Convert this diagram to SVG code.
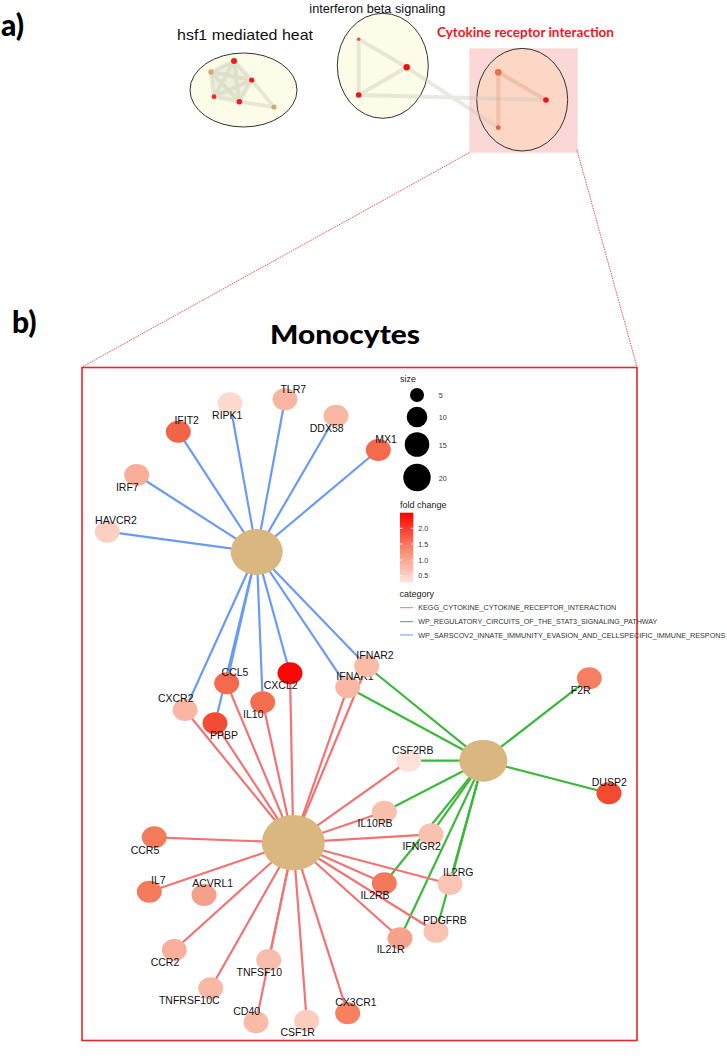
<svg xmlns="http://www.w3.org/2000/svg" width="727" height="1058" viewBox="0 0 727 1058">
<defs>
<linearGradient id="fc" x1="0" y1="0" x2="0" y2="1">
<stop offset="0" stop-color="#ff0000"/>
<stop offset="0.5" stop-color="#f7836a"/>
<stop offset="1" stop-color="#fde6df"/>
</linearGradient>
</defs>
<style>
.panel{font-family:Lato,"Liberation Sans",sans-serif;font-weight:900;fill:#000}
.ttl{font-family:"Liberation Sans",Arial,sans-serif;fill:#111}
.lbl{font-family:"Liberation Sans",Arial,sans-serif;font-size:10.5px;fill:#111;text-anchor:middle}
.leg{font-family:"Liberation Sans",Arial,sans-serif;fill:#222}
.sm{font-family:"Liberation Sans",Arial,sans-serif;font-size:7.2px;fill:#333}
.blue{stroke:#6a9bf4;stroke-width:2.2;fill:none}
.red{stroke:#f27373;stroke-width:2.2;fill:none}
.green{stroke:#3cb83c;stroke-width:2.2;fill:none}
.hub{fill:#dab780}
.mesh{stroke:#c8c8b8;stroke-opacity:0.4;stroke-width:4;fill:none;stroke-linecap:round}
.dot{stroke:#f05050;stroke-width:1;stroke-dasharray:1.5 1;fill:none}
</style>

<!-- Panel a -->
<g id="panel-a">
<text class="panel" x="1" y="36" font-size="30">a)</text>
<rect x="469.3" y="48.3" width="108.4" height="104.4" fill="#fbd7d7"/>
<g id="cluster-hsf1">
<text class="ttl" x="177" y="39.5" font-size="15" textLength="136" lengthAdjust="spacingAndGlyphs">hsf1 mediated heat</text>
<ellipse cx="243.5" cy="90" rx="53.5" ry="37" fill="#fcfce8" stroke="#333" stroke-width="1"/>
<path d="M234,61 L211,72 L214,96.7 L239.3,101.7 L251.7,80 Z" fill="#d8d8c8" fill-opacity="0.35" stroke="none"/>
<path class="mesh" d="M234,61 L211,72 L214,96.7 L239.3,101.7 L251.7,80 Z M234,61 L214,96.7 M234,61 L239.3,101.7 M211,72 L251.7,80 M211,72 L239.3,101.7 M214,96.7 L251.7,80 M251.7,80 L274,107 M239.3,101.7 L274,107"/>
<circle cx="234" cy="61" r="3" fill="#f41a1a"/>
<circle cx="211" cy="72" r="2.7" fill="#d8a870"/>
<circle cx="251.7" cy="80" r="2.6" fill="#f41a1a"/>
<circle cx="214" cy="96.7" r="2.4" fill="#f42a2a"/>
<circle cx="239.3" cy="101.7" r="2.8" fill="#f41a1a"/>
<circle cx="274" cy="107" r="2.6" fill="#d8a870"/>
</g>
<g id="cluster-ifnb">
<text class="ttl" x="309.3" y="12.5" font-size="12.5" textLength="136" lengthAdjust="spacingAndGlyphs">interferon beta signaling</text>
<ellipse cx="382.8" cy="65.8" rx="45.5" ry="52.5" fill="#fcfce8" stroke="#333" stroke-width="1"/>
</g>
<g id="cluster-cytokine">
<text class="panel" x="437" y="36.7" font-size="14" style="fill:#f01818;font-weight:bold" textLength="177" lengthAdjust="spacingAndGlyphs">Cytokine receptor interaction</text>
<ellipse cx="522.2" cy="99.7" rx="45.5" ry="51.3" fill="#fcd7c6" stroke="#333" stroke-width="1"/>
</g>
<path class="mesh" d="M358.7,39.3 L358.7,95 M358.7,39.3 L406.7,67.3 M358.7,95 L406.7,67.3 M406.7,67.3 L498.3,127.7 M358.7,95 L546,100"/>
<path d="M498.3,72.3 L546,100 M498.3,72.3 L498.3,127.7" stroke="#e0a080" stroke-opacity="0.4" stroke-width="4" fill="none"/>
<circle cx="358.7" cy="39.3" r="1.8" fill="#f05050"/>
<circle cx="406.7" cy="67.3" r="3.2" fill="#f41010"/>
<circle cx="358.7" cy="95" r="2.8" fill="#f41010"/>
<circle cx="498.3" cy="72.3" r="3.4" fill="#e8704e"/>
<circle cx="546" cy="100" r="2.8" fill="#f41010"/>
<circle cx="498.3" cy="127.7" r="2.4" fill="#e8603e"/>
<path class="dot" d="M469.3,152.7 L82,367 M577,150 L637,367"/>
</g>

<!-- Panel b -->
<text class="panel" x="12" y="333" font-size="30">b)</text>
<text class="panel" x="270" y="344" font-size="26" textLength="150" lengthAdjust="spacingAndGlyphs">Monocytes</text>
<rect x="82" y="367.5" width="555" height="673" fill="none" stroke="#e8262a" stroke-width="1.6"/>

<!-- Connectors -->
<g id="connectors">
<g class="blue">
<line x1="256.7" y1="552" x2="285" y2="399.3"/>
<line x1="256.7" y1="552" x2="230" y2="403.3"/>
<line x1="256.7" y1="552" x2="178.3" y2="431.7"/>
<line x1="256.7" y1="552" x2="336" y2="415.7"/>
<line x1="256.7" y1="552" x2="378.3" y2="450"/>
<line x1="256.7" y1="552" x2="136.7" y2="475"/>
<line x1="256.7" y1="552" x2="107.3" y2="531.7"/>
<line x1="256.7" y1="552" x2="185" y2="710"/>
<line x1="256.7" y1="552" x2="226.7" y2="683.3"/>
<line x1="256.7" y1="552" x2="215" y2="723.3"/>
<line x1="256.7" y1="552" x2="262.7" y2="702.3"/>
<line x1="256.7" y1="552" x2="290" y2="673.3"/>
<line x1="256.7" y1="552" x2="347.7" y2="687.3"/>
<line x1="256.7" y1="552" x2="366.7" y2="666"/>
</g>
<g class="green">
<line x1="483.3" y1="760.7" x2="589.3" y2="678.3"/>
<line x1="483.3" y1="760.7" x2="609" y2="793.3"/>
<line x1="483.3" y1="760.7" x2="408.7" y2="760.7"/>
<line x1="483.3" y1="760.7" x2="347.7" y2="687.3"/>
<line x1="483.3" y1="760.7" x2="366.7" y2="666"/>
<line x1="483.3" y1="760.7" x2="384.3" y2="811.7"/>
<line x1="483.3" y1="760.7" x2="431" y2="834.3"/>
<line x1="483.3" y1="760.7" x2="384.3" y2="883.3"/>
<line x1="483.3" y1="760.7" x2="450" y2="884"/>
<line x1="483.3" y1="760.7" x2="436" y2="931.7"/>
<line x1="483.3" y1="760.7" x2="400" y2="938.3"/>
</g>
<g class="red">
<line x1="293.3" y1="842.7" x2="185" y2="710"/>
<line x1="293.3" y1="842.7" x2="226.7" y2="683.3"/>
<line x1="293.3" y1="842.7" x2="215" y2="723.3"/>
<line x1="293.3" y1="842.7" x2="262.7" y2="702.3"/>
<line x1="293.3" y1="842.7" x2="290" y2="673.3"/>
<line x1="293.3" y1="842.7" x2="347.7" y2="687.3"/>
<line x1="293.3" y1="842.7" x2="366.7" y2="666"/>
<line x1="293.3" y1="842.7" x2="408.7" y2="760.7"/>
<line x1="293.3" y1="842.7" x2="384.3" y2="811.7"/>
<line x1="293.3" y1="842.7" x2="431" y2="834.3"/>
<line x1="293.3" y1="842.7" x2="450" y2="884"/>
<line x1="293.3" y1="842.7" x2="384.3" y2="883.3"/>
<line x1="293.3" y1="842.7" x2="436" y2="931.7"/>
<line x1="293.3" y1="842.7" x2="400" y2="938.3"/>
<line x1="293.3" y1="842.7" x2="154.3" y2="837.3"/>
<line x1="293.3" y1="842.7" x2="149.3" y2="891.7"/>
<line x1="293.3" y1="842.7" x2="174.3" y2="950"/>
<line x1="293.3" y1="842.7" x2="268.7" y2="960"/>
<line x1="293.3" y1="842.7" x2="210.7" y2="988.3"/>
<line x1="293.3" y1="842.7" x2="256" y2="1022.3"/>
<line x1="293.3" y1="842.7" x2="306.7" y2="1020.7"/>
<line x1="293.3" y1="842.7" x2="347.7" y2="1013.3"/>
</g>
</g>

<!-- Hubs -->
<g id="hub-sarscov2"><ellipse class="hub" cx="256.7" cy="552" rx="26" ry="23"/></g>
<g id="hub-stat3"><ellipse class="hub" cx="483.3" cy="760.7" rx="24" ry="21"/></g>
<g id="hub-kegg"><ellipse class="hub" cx="293.3" cy="842.7" rx="31.5" ry="27.7"/></g>

<!-- Gene nodes -->
<g id="n-TLR7"><ellipse cx="285" cy="399.3" rx="12.5" ry="11" fill="#f8b5a0"/><text class="lbl" x="293.3" y="392.7">TLR7</text></g>
<g id="n-RIPK1"><ellipse cx="230" cy="403.3" rx="12.5" ry="11" fill="#fcd9cd"/><text class="lbl" x="227.3" y="419.4">RIPK1</text></g>
<g id="n-IFIT2"><ellipse cx="178.3" cy="431.7" rx="12.5" ry="11" fill="#f26448"/><text class="lbl" x="186.7" y="424.4">IFIT2</text></g>
<g id="n-DDX58"><ellipse cx="336" cy="415.7" rx="12.5" ry="11" fill="#f8b8a4"/><text class="lbl" x="326.7" y="432">DDX58</text></g>
<g id="n-MX1"><ellipse cx="378.3" cy="450" rx="12.5" ry="11" fill="#f36a4e"/><text class="lbl" x="386" y="443">MX1</text></g>
<g id="n-IRF7"><ellipse cx="136.7" cy="475" rx="12.5" ry="11" fill="#f8ae98"/><text class="lbl" x="127.3" y="491.4">IRF7</text></g>
<g id="n-HAVCR2"><ellipse cx="107.3" cy="531.7" rx="12.5" ry="11" fill="#fbd0c4"/><text class="lbl" x="116" y="524.4">HAVCR2</text></g>
<g id="n-CXCR2"><ellipse cx="185" cy="710" rx="12.5" ry="11" fill="#f9b6a2"/><text class="lbl" x="175.7" y="702">CXCR2</text></g>
<g id="n-CCL5"><ellipse cx="226.7" cy="683.3" rx="12.5" ry="11" fill="#f56a4c"/><text class="lbl" x="235" y="676">CCL5</text></g>
<g id="n-PPBP"><ellipse cx="215" cy="723.3" rx="12.5" ry="11" fill="#f34c34"/><text class="lbl" x="224" y="739.4">PPBP</text></g>
<g id="n-IL10"><ellipse cx="262.7" cy="702.3" rx="12.5" ry="11" fill="#f46e50"/><text class="lbl" x="253.3" y="717.7">IL10</text></g>
<g id="n-CXCL2"><ellipse cx="290" cy="673.3" rx="12.5" ry="11" fill="#fe0606"/><text class="lbl" x="280.7" y="688.7">CXCL2</text></g>
<g id="n-IFNAR1"><ellipse cx="347.7" cy="687.3" rx="12.5" ry="11" fill="#f9b8a4"/><text class="lbl" x="355" y="680.4">IFNAR1</text></g>
<g id="n-IFNAR2"><ellipse cx="366.7" cy="666" rx="12.5" ry="11" fill="#f9bca8"/><text class="lbl" x="375" y="659.4">IFNAR2</text></g>
<g id="n-CSF2RB"><ellipse cx="408.7" cy="760.7" rx="12.5" ry="11" fill="#fde0d8"/><text class="lbl" x="412.7" y="753.7">CSF2RB</text></g>
<g id="n-F2R"><ellipse cx="589.3" cy="678.3" rx="12.5" ry="11" fill="#f67f62"/><text class="lbl" x="580.7" y="693.7">F2R</text></g>
<g id="n-DUSP2"><ellipse cx="609" cy="793.3" rx="12.5" ry="11" fill="#f44a32"/><text class="lbl" x="609.3" y="786">DUSP2</text></g>
<g id="n-IL10RB"><ellipse cx="384.3" cy="811.7" rx="12.5" ry="11" fill="#f9c0ae"/><text class="lbl" x="375" y="827">IL10RB</text></g>
<g id="n-IFNGR2"><ellipse cx="431" cy="834.3" rx="12.5" ry="11" fill="#f9c2b0"/><text class="lbl" x="421.7" y="850.4">IFNGR2</text></g>
<g id="n-IL2RG"><ellipse cx="450" cy="884" rx="12.5" ry="11" fill="#fac4b4"/><text class="lbl" x="458.3" y="876.4">IL2RG</text></g>
<g id="n-IL2RB"><ellipse cx="384.3" cy="883.3" rx="12.5" ry="11" fill="#f4785a"/><text class="lbl" x="375" y="898.7">IL2RB</text></g>
<g id="n-PDGFRB"><ellipse cx="436" cy="931.7" rx="12.5" ry="11" fill="#fac3b2"/><text class="lbl" x="445" y="923.7">PDGFRB</text></g>
<g id="n-IL21R"><ellipse cx="400" cy="938.3" rx="12.5" ry="11" fill="#f6a28c"/><text class="lbl" x="390.7" y="953">IL21R</text></g>
<g id="n-CCR5"><ellipse cx="154.3" cy="837.3" rx="12.5" ry="11" fill="#f47a5c"/><text class="lbl" x="145" y="853.7">CCR5</text></g>
<g id="n-IL7"><ellipse cx="149.3" cy="891.7" rx="12.5" ry="11" fill="#f47a5c"/><text class="lbl" x="158.3" y="884.4">IL7</text></g>
<g id="n-ACVRL1"><ellipse cx="204" cy="895" rx="12.5" ry="11" fill="#f5a08a"/><text class="lbl" x="212.7" y="887">ACVRL1</text></g>
<g id="n-CCR2"><ellipse cx="174.3" cy="950" rx="12.5" ry="11" fill="#f8b09c"/><text class="lbl" x="165" y="966.4">CCR2</text></g>
<g id="n-TNFSF10"><ellipse cx="268.7" cy="960" rx="12.5" ry="11" fill="#f9bdac"/><text class="lbl" x="259.3" y="976">TNFSF10</text></g>
<g id="n-TNFRSF10C"><ellipse cx="210.7" cy="988.3" rx="12.5" ry="11" fill="#f8b8a5"/><text class="lbl" x="189.3" y="1004.4">TNFRSF10C</text></g>
<g id="n-CD40"><ellipse cx="256" cy="1022.3" rx="12.5" ry="11" fill="#f9bba8"/><text class="lbl" x="246.7" y="1015">CD40</text></g>
<g id="n-CSF1R"><ellipse cx="306.7" cy="1020.7" rx="12.5" ry="11" fill="#fbcdbf"/><text class="lbl" x="297.7" y="1036.4">CSF1R</text></g>
<g id="n-CX3CR1"><ellipse cx="347.7" cy="1013.3" rx="12.5" ry="11" fill="#f6805f"/><text class="lbl" x="356" y="1006">CX3CR1</text></g>

<!-- Legend -->
<g id="legend">
<text class="leg" x="400" y="381.5" font-size="9">size</text>
<circle cx="417" cy="395" r="7" fill="#000"/>
<circle cx="417" cy="417" r="10.3" fill="#000"/>
<circle cx="417" cy="444.5" r="12.3" fill="#000"/>
<circle cx="417" cy="477.5" r="13.7" fill="#000"/>
<text class="sm" x="438.7" y="397.5">5</text>
<text class="sm" x="438.7" y="419.5">10</text>
<text class="sm" x="438.7" y="447.5">15</text>
<text class="sm" x="438.7" y="480.5">20</text>
<text class="leg" x="400" y="508" font-size="9">fold change</text>
<rect x="400" y="512.7" width="13.3" height="70" fill="url(#fc)"/>
<path d="M400,528.3 h2.5 M410.8,528.3 h2.5 M400,544 h2.5 M410.8,544 h2.5 M400,560 h2.5 M410.8,560 h2.5 M400,575.7 h2.5 M410.8,575.7 h2.5" stroke="#fff" stroke-width="0.8"/>
<text class="sm" x="418.3" y="530.8">2.0</text>
<text class="sm" x="418.3" y="546.5">1.5</text>
<text class="sm" x="418.3" y="562.5">1.0</text>
<text class="sm" x="418.3" y="578.2">0.5</text>
<text class="leg" x="399.5" y="596.5" font-size="9">category</text>
<line x1="400" y1="607.7" x2="413" y2="607.7" stroke="#f27373" stroke-width="1"/>
<line x1="400" y1="621.7" x2="413" y2="621.7" stroke="#3cb83c" stroke-width="1"/>
<line x1="400" y1="635" x2="413" y2="635" stroke="#6a9bf4" stroke-width="1"/>
<text class="sm" x="418.3" y="610.3" textLength="198" lengthAdjust="spacingAndGlyphs">KEGG_CYTOKINE_CYTOKINE_RECEPTOR_INTERACTION</text>
<text class="sm" x="418.3" y="624.3" textLength="239" lengthAdjust="spacingAndGlyphs">WP_REGULATORY_CIRCUITS_OF_THE_STAT3_SIGNALING_PATHWAY</text>
<text class="sm" x="418.3" y="637.6" textLength="307" lengthAdjust="spacingAndGlyphs">WP_SARSCOV2_INNATE_IMMUNITY_EVASION_AND_CELLSPECIFIC_IMMUNE_RESPONS</text>
</g>
</svg>
